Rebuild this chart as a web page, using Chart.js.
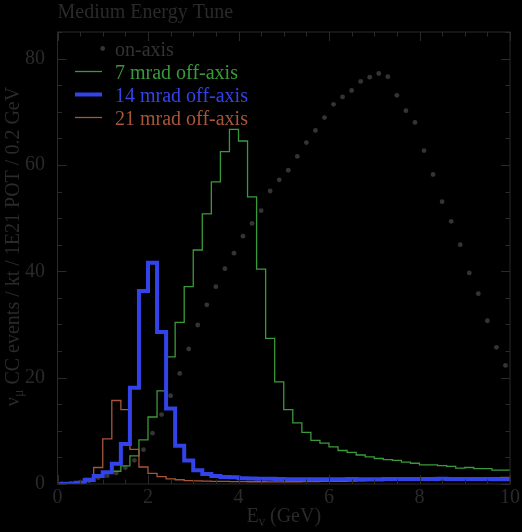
<!DOCTYPE html>
<html lang="en">
<head>
  <meta charset="UTF-8">
  <title>Medium Energy Tune</title>
  <script src="https://cdn.jsdelivr.net/npm/chart.js"></script>
  <style>
    html, body { margin: 0; padding: 0; background: #000; }
    canvas { display: block; background: #000; }
  </style>
</head>
<body>
  <canvas id="tune" width="522" height="532"></canvas>

  <script>
    // bin edges in GeV (0.2 GeV bins)
    const binEdges = [0, 0.2, 0.4, 0.6, 0.8, 1, 1.2, 1.4, 1.6, 1.8, 2, 2.2, 2.4, 2.6, 2.8, 3, 3.2, 3.4, 3.6, 3.8,
      4, 4.2, 4.4, 4.6, 4.8, 5, 5.2, 5.4, 5.6, 5.8, 6, 6.2, 6.4, 6.6, 6.8, 7, 7.2, 7.4, 7.6, 7.8,
      8, 8.2, 8.4, 8.6, 8.8, 9, 9.2, 9.4, 9.6, 9.8, 10];

    const onAxis = [0.05, 0.1, 0.3, 0.6, 1.2, 1.56, 2.05, 3.05, 4.45, 6.45,
      9.55, 13.05, 16.6, 20.8, 25.4, 29.9, 33.7, 37.1, 40.5, 43.4,
      46.6, 49.0, 51.4, 55.1, 57.2, 59.0, 61.6, 64.2, 66.5, 68.9,
      71.4, 72.8, 74.0, 75.7, 76.5, 77.2, 76.6, 73.1, 70.2, 68.0,
      62.7, 58.2, 53.1, 49.4, 45.0, 39.7, 35.8, 30.7, 25.7, 22.3];

    const mrad7 = [0.05, 0.1, 0.2, 0.5, 1.3, 2.0, 2.4, 3.4, 5.3, 8.3,
      12.6, 17.5, 23.9, 30.4, 37.1, 44.0, 50.8, 56.8, 62.5, 66.7,
      64.5, 54.0, 40.4, 27.4, 19.2, 14.0, 11.5, 9.7, 8.2, 7.7,
      7.0, 6.3, 5.95, 5.45, 5.1, 4.8, 4.6, 4.45, 4.1, 3.9,
      3.6, 3.6, 3.45, 3.3, 3.0, 3.1, 2.9, 2.9, 2.6, 2.6];

    const mrad14 = [0.02, 0.05, 0.25, 0.75, 1.5, 2.2, 3.8, 7.5, 18.1, 36.3,
      41.6, 28.6, 14.2, 7.2, 4.4, 2.6, 1.9, 1.5, 1.3, 1.25,
      1.1, 1.05, 1.0, 1.0, 0.95, 0.9, 0.9, 0.88, 0.88, 0.9,
      0.9, 0.9, 0.92, 0.9, 0.88, 0.9, 0.92, 0.95, 0.95, 0.92,
      0.95, 0.95, 0.97, 0.95, 0.95, 0.92, 0.95, 0.95, 0.9, 0.9];

    const mrad21 = [0.02, 0.1, 0.4, 1.07, 3.1, 8.5, 15.7, 14.0, 6.5, 3.2,
      2.0, 1.4, 0.95, 0.8, 0.65, 0.6, 0.55, 0.5, 0.5, 0.45,
      0.45, 0.42, 0.42, 0.4, 0.4, 0.42, 0.42, 0.45, 0.45, 0.48,
      0.5, 0.5, 0.55, 0.6, 0.62, 0.65, 0.68, 0.7, 0.75, 0.78,
      0.8, 0.85, 0.88, 0.9, 0.95, 1.0, 1.05, 1.1, 1.2, 1.25];

    const legendLabels = ['on-axis', '7 mrad off-axis', '14 mrad off-axis', '21 mrad off-axis'];
    const xTickLabels = [0, 2, 4, 6, 8, 10];
    const yTickLabels = [0, 20, 40, 60, 80];

    const serif = "'Liberation Serif', 'Times New Roman', serif";
    const textGray = '#2a2a2a';
    const axisGray = '#2a2a2a';
    const dotGray = '#343434';
    const green = '#3a9a3a';
    const blue = '#3343ea';
    const orange = '#a8553a';

    // histogram as stepped line: value held from each low edge to the next
    function histPoints(values) {
      const pts = values.map((v, i) => ({ x: binEdges[i], y: v }));
      pts.push({ x: binEdges[values.length], y: values[values.length - 1] });
      return pts;
    }

    const centers = onAxis.map((v, i) => ({ x: (binEdges[i] + binEdges[i + 1]) / 2, y: v }));

    function isMajor(v, step) {
      return Math.abs(v / step - Math.round(v / step)) < 1e-6;
    }

    const framePlugin = {
      id: 'framePlugin',
      afterDatasetsDraw(chart) {
        const { ctx, chartArea: a, scales: { x, y } } = chart;
        ctx.save();
        ctx.strokeStyle = axisGray;
        ctx.lineWidth = 1;
        ctx.strokeRect(a.left, a.top, a.right - a.left, a.bottom - a.top);
        ctx.beginPath();
        x.ticks.forEach(t => {
          const px = Math.round(x.getPixelForValue(t.value)) + 0.5;
          const len = isMajor(t.value, 2) ? 9 : 4.5;
          ctx.moveTo(px, a.bottom); ctx.lineTo(px, a.bottom - len);
          ctx.moveTo(px, a.top); ctx.lineTo(px, a.top + len);
        });
        y.ticks.forEach(t => {
          const py = Math.round(y.getPixelForValue(t.value)) + 0.5;
          const len = isMajor(t.value, 20) ? 9 : 4.5;
          ctx.moveTo(a.left, py); ctx.lineTo(a.left + len, py);
          ctx.moveTo(a.right, py); ctx.lineTo(a.right - len, py);
        });
        ctx.stroke();
        ctx.restore();
      },
      afterDraw(chart) {
        const { ctx, chartArea: a } = chart;
        ctx.save();
        ctx.textBaseline = 'alphabetic';
        ctx.textAlign = 'left';

        // title
        ctx.fillStyle = textGray;
        ctx.font = '20px ' + serif;
        ctx.fillText('Medium Energy Tune', a.left, 18);

        // legend
        const rows = [48.5, 71.5, 94.5, 117.5];
        const colors = [dotGray, green, blue, orange];
        const widths = [0, 1.3, 4, 1.3];
        rows.forEach((ry, i) => {
          if (i === 0) {
            ctx.fillStyle = dotGray;
            ctx.beginPath();
            ctx.arc(102.7, ry, 2.4, 0, Math.PI * 2);
            ctx.fill();
          } else {
            ctx.strokeStyle = colors[i];
            ctx.lineWidth = widths[i];
            ctx.beginPath();
            ctx.moveTo(75, ry); ctx.lineTo(102, ry);
            ctx.stroke();
          }
          ctx.fillStyle = i === 0 ? '#333' : colors[i];
          ctx.font = '20px ' + serif;
          ctx.fillText(legendLabels[i], 115, ry + 7);
        });

        // x axis title: E_nu (GeV)
        ctx.fillStyle = textGray;
        const big = '20px ' + serif, small = '14px ' + serif;
        ctx.font = big; const wE = ctx.measureText('E').width;
        ctx.font = small; const wNu = ctx.measureText('\u03bd').width;
        ctx.font = big; const wRest = ctx.measureText(' (GeV)').width;
        let sx = (a.left + a.right) / 2 - (wE + wNu + wRest) / 2;
        const by = 521.5;
        ctx.font = big; ctx.fillText('E', sx, by); sx += wE;
        ctx.font = small; ctx.fillText('\u03bd', sx, by + 4); sx += wNu;
        ctx.font = big; ctx.fillText(' (GeV)', sx, by);

        // y axis title: nu_mu CC events / kt / 1E21 POT / 0.2 GeV
        const rest = ' CC events / kt / 1E21 POT / 0.2 GeV';
        ctx.font = big; const w1 = ctx.measureText('\u03bd').width;
        ctx.font = small; const w2 = ctx.measureText('\u03bc').width;
        ctx.font = big; const w3 = ctx.measureText(rest).width;
        ctx.translate(18.5, 246.5);
        ctx.rotate(-Math.PI / 2);
        let tx = -(w1 + w2 + w3) / 2;
        ctx.font = big; ctx.fillText('\u03bd', tx, 0); tx += w1;
        ctx.font = small; ctx.fillText('\u03bc', tx, 4); tx += w2;
        ctx.font = big; ctx.fillText(rest, tx, 0);
        ctx.restore();
      }
    };

    new Chart(document.getElementById('tune'), {
      type: 'line',
      data: {
        datasets: [
          { label: legendLabels[0], data: centers, showLine: false, pointRadius: 2.4,
            pointBackgroundColor: dotGray, pointBorderWidth: 0, order: 4 },
          { label: legendLabels[1], data: histPoints(mrad7), stepped: true, borderColor: green,
            borderWidth: 1.3, pointRadius: 0, fill: false, order: 3 },
          { label: legendLabels[2], data: histPoints(mrad14), stepped: true, borderColor: blue,
            borderWidth: 4, pointRadius: 0, fill: false, order: 1 },
          { label: legendLabels[3], data: histPoints(mrad21), stepped: true, borderColor: orange,
            borderWidth: 1.3, pointRadius: 0, fill: false, order: 2 }
        ]
      },
      options: {
        responsive: false,
        animation: false,
        events: [],
        devicePixelRatio: 1,
        layout: { padding: { top: 32, right: 11, left: 0, bottom: 0 } },
        plugins: { legend: { display: false }, title: { display: false }, tooltip: { enabled: false } },
        scales: {
          x: {
            type: 'linear', min: 0, max: 10,
            grid: { display: false, drawTicks: false },
            border: { display: false },
            ticks: {
              stepSize: 0.5, autoSkip: false, maxRotation: 0, padding: 2,
              color: textGray, font: { family: serif, size: 20 },
              callback: v => xTickLabels.includes(v) ? String(v) : ''
            },
            afterFit: s => { s.height = 48; }
          },
          y: {
            type: 'linear', min: 0, max: 85,
            grid: { display: false, drawTicks: false },
            border: { display: false },
            ticks: {
              stepSize: 5, autoSkip: false, padding: 12.5,
              color: textGray, font: { family: serif, size: 20 },
              callback: v => yTickLabels.includes(v) ? String(v) : ''
            },
            afterFit: s => { s.width = 57.5; }
          }
        }
      },
      plugins: [framePlugin]
    });
  </script>
</body>
</html>
